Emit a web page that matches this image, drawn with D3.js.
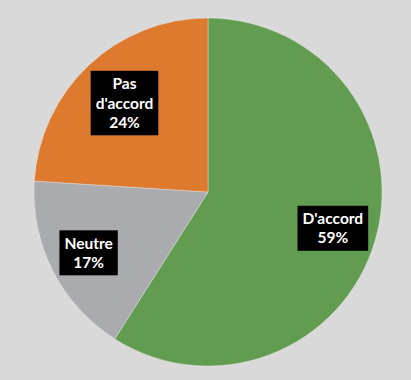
<!DOCTYPE html>
<html>
<head>
<meta charset="utf-8">
<script src="https://cdn.jsdelivr.net/npm/d3@7"></script>
<style>
  html, body { margin: 0; padding: 0; background: #d9d9d9; }
  svg { display: block; }
</style>
</head>
<body>
<script>
// Répartition des réponses
const categories = ["D'accord", "Neutre", "Pas d'accord"];
const values = [59, 17, 24];
const colors = ["#629c50", "#a9abae", "#de7a2d"];

const width = 411, height = 380;
const cx = 208, cy = 192, radius = 174;

// distance des étiquettes au centre, par part
const labelRadius = { "D'accord": 130, "Neutre": 134, "Pas d'accord": 122 };

const svg = d3.select("body").append("svg")
  .attr("width", width).attr("height", height);

svg.append("rect").attr("width", width).attr("height", height).attr("fill", "#d9d9d9");

const data = categories.map((c, i) => ({ name: c, value: values[i], color: colors[i] }));

const pie = d3.pie().value(d => d.value).sort(null);
const arcs = pie(data);

const arc = d3.arc().innerRadius(0).outerRadius(radius);

const g = svg.append("g").attr("transform", `translate(${cx},${cy})`);

g.selectAll("path.slice").data(arcs).enter().append("path")
  .attr("class", "slice")
  .attr("d", arc)
  .attr("fill", d => d.data.color)
  .attr("stroke", "#e8e8e8")
  .attr("stroke-opacity", 0.5)
  .attr("stroke-width", 0.8);

// Étiquettes : nom + pourcentage dans un cadre noir
const lineH = 19.5;
const labels = g.selectAll("g.label").data(arcs).enter().append("g")
  .attr("class", "label")
  .attr("transform", d => {
    const r = labelRadius[d.data.name];
    return `translate(${d3.arc().innerRadius(r).outerRadius(r).centroid(d)})`;
  });

labels.each(function(d) {
  const sel = d3.select(this);
  let lines;
  if (d.data.name === "Pas d'accord") lines = ["Pas", "d'accord", d.data.value + "%"];
  else lines = [d.data.name, d.data.value + "%"];
  const rect = sel.append("rect").attr("fill", "#000");
  const text = sel.append("text")
    .attr("fill", "#fff")
    .attr("font-family", "Lato, 'Open Sans', sans-serif")
    .attr("font-weight", "bold")
    .attr("font-size", 15.5)
    .attr("text-anchor", "middle");
  const top = -(lines.length * lineH) / 2;
  lines.forEach((l, i) => {
    text.append("tspan")
      .attr("x", 0)
      .attr("y", top + lineH * i + lineH / 2)
      .attr("dy", "0.35em")
      .text(l);
  });
  const bb = text.node().getBBox();
  const padX = 5, padY = 3;
  rect.attr("x", bb.x - padX)
    .attr("y", top - padY)
    .attr("width", bb.width + 2 * padX)
    .attr("height", lines.length * lineH + 2 * padY);
});
</script>
</body>
</html>
